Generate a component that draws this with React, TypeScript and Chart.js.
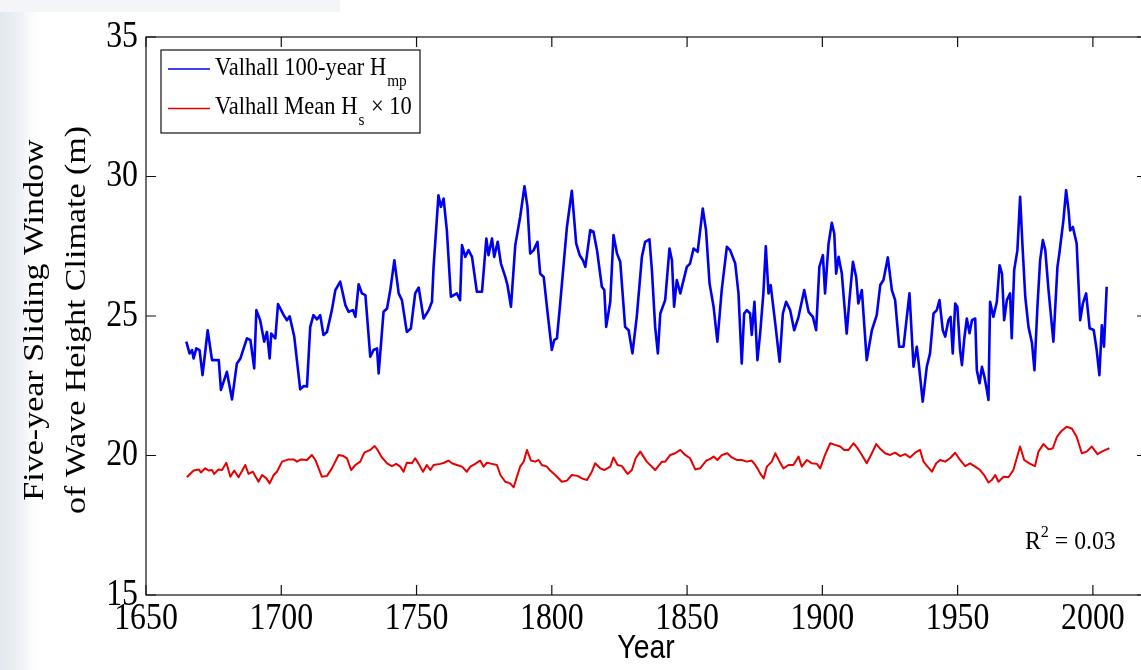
import React, { useEffect, useRef } from "react";
import { Chart, registerables } from "chart.js";

Chart.register(...registerables);

// ---- Data ----
const blueYears = [
  1664.9, 1666.1, 1667.0, 1667.6, 1668.6, 1669.8, 1670.9, 1672.8, 1674.4, 1676.9, 1677.7, 1679.9, 1681.8, 1683.6, 1684.9,
  1687.3, 1688.6, 1690.0, 1690.8, 1692.2, 1693.7, 1694.7, 1695.7, 1696.3, 1697.8, 1698.8, 1700.9, 1702.1, 1703.1, 1704.8,
  1707.0, 1708.3, 1709.5, 1710.7, 1711.9, 1713.2, 1714.4, 1715.6, 1716.9, 1718.7, 1720.0, 1721.8, 1723.7, 1724.9, 1726.5,
  1727.4, 1728.6, 1729.8, 1731.1, 1732.9, 1734.1, 1735.4, 1736.0, 1737.8, 1739.1, 1740.3, 1741.8, 1743.4, 1744.6, 1746.4,
  1747.9, 1749.5, 1750.8, 1752.6, 1754.5, 1755.7, 1756.3, 1758.1, 1759.0, 1760.0, 1761.2, 1762.7, 1764.9, 1766.1, 1766.8,
  1768.0, 1769.2, 1770.5, 1772.3, 1774.2, 1775.8, 1776.6, 1777.9, 1778.7, 1780.0, 1781.2, 1782.8, 1783.6, 1784.9, 1786.5,
  1788.3, 1789.9, 1791.0, 1792.0, 1793.3, 1794.7, 1795.7, 1797.0, 1798.4, 1800.0, 1800.9, 1801.9, 1803.1, 1805.6, 1807.4,
  1809.0, 1810.3, 1811.5, 1812.4, 1814.2, 1815.4, 1816.7, 1818.5, 1819.4, 1820.1, 1821.6, 1822.8, 1824.1, 1825.3, 1827.1,
  1828.4, 1829.8, 1831.4, 1833.3, 1834.5, 1836.1, 1837.0, 1838.2, 1839.2, 1840.1, 1841.9, 1843.5, 1844.4, 1845.2, 1846.2,
  1847.5, 1849.9, 1851.1, 1852.4, 1853.9, 1855.8, 1857.0, 1858.3, 1859.8, 1861.2, 1862.8, 1864.7, 1865.9, 1867.8, 1869.0,
  1870.2, 1871.1, 1872.1, 1873.3, 1873.9, 1874.9, 1876.0, 1877.0, 1878.2, 1879.1, 1880.1, 1880.9, 1882.6, 1884.2, 1885.4,
  1886.6, 1888.1, 1889.6, 1891.2, 1893.3, 1894.9, 1896.5, 1897.7, 1898.9, 1900.2, 1901.0, 1902.3, 1903.5, 1904.4, 1905.1,
  1906.0, 1907.2, 1909.0, 1910.0, 1911.3, 1912.5, 1913.3, 1914.6, 1916.4, 1918.3, 1920.1, 1921.4, 1922.6, 1924.2, 1925.7,
  1926.9, 1928.4, 1930.0, 1932.2, 1933.7, 1934.9, 1935.5, 1937.1, 1938.6, 1939.8, 1941.1, 1942.3, 1943.3, 1944.5, 1945.4,
  1946.6, 1947.4, 1948.2, 1949.1, 1949.9, 1950.9, 1951.6, 1952.4, 1953.4, 1954.4, 1955.3, 1956.5, 1957.1, 1958.1, 1959.0,
  1959.9, 1960.8, 1961.4, 1962.0, 1963.2, 1964.5, 1965.5, 1966.4, 1967.2, 1968.2, 1969.4, 1970.0, 1970.9, 1972.1, 1973.1,
  1974.0, 1975.0, 1976.2, 1977.5, 1978.4, 1979.5, 1980.5, 1981.5, 1982.4, 1983.6, 1985.4, 1986.9, 1987.6, 1989.1, 1990.1,
  1991.0, 1991.6, 1992.6, 1994.0, 1995.3, 1996.3, 1997.5, 1998.8, 2000.3, 2001.4, 2002.4, 2003.3, 2004.1, 2005.1,
];
const blueValues = [
  24.08, 23.66, 23.78, 23.48, 23.84, 23.78, 22.88, 24.49, 23.42, 23.42, 22.35, 23.0, 22.01, 23.3, 23.48,
  24.2, 24.14, 23.12, 25.21, 24.85, 24.08, 24.43, 23.48, 24.37, 24.2, 25.43, 25.03, 24.85, 24.99, 24.26,
  22.37, 22.49, 22.47, 24.61, 25.03, 24.88, 25.03, 24.32, 24.43, 25.21, 25.93, 26.23, 25.39, 25.15, 25.21,
  24.97, 26.14, 25.81, 25.75, 23.54, 23.78, 23.84, 22.94, 25.15, 25.27, 25.93, 27.0, 25.81, 25.57, 24.43,
  24.55, 25.81, 26.02, 24.91, 25.21, 25.51, 26.76, 29.33, 28.91, 29.21, 28.08, 25.69, 25.81, 25.57, 27.54,
  27.12, 27.36, 27.12, 25.87, 25.87, 27.78, 27.18, 27.78, 27.12, 27.66, 26.88, 26.4, 26.11, 25.33, 27.54,
  28.55, 29.65, 28.91, 27.24, 27.36, 27.66, 26.52, 26.4, 25.15, 23.78, 24.14, 24.2, 25.45, 28.2, 29.49,
  27.6, 27.18, 27.0, 26.76, 28.08, 28.02, 27.36, 26.05, 25.93, 24.61, 25.51, 27.9, 27.24, 26.94, 24.61,
  24.49, 23.66, 24.97, 27.12, 27.66, 27.75, 26.64, 24.61, 23.66, 25.09, 25.57, 27.42, 27.0, 25.33, 26.29,
  25.81, 26.76, 26.88, 27.42, 27.3, 28.85, 28.08, 26.17, 25.33, 24.08, 25.93, 27.48, 27.36, 26.88, 25.81,
  23.3, 25.09, 25.21, 25.09, 24.32, 25.51, 23.42, 24.37, 25.81, 27.5, 25.81, 26.11, 24.73, 23.36, 25.09,
  25.51, 25.21, 24.49, 24.97, 25.93, 25.15, 24.97, 24.49, 26.76, 27.18, 25.81, 27.6, 28.34, 27.96, 26.52,
  27.12, 26.52, 24.37, 25.57, 26.94, 26.4, 25.45, 25.93, 23.42, 24.49, 25.03, 26.11, 26.29, 27.1, 25.93,
  25.57, 23.9, 23.9, 25.81, 23.18, 23.9, 23.42, 21.93, 23.18, 23.66, 25.09, 25.21, 25.57, 24.5, 24.26,
  24.85, 24.97, 23.66, 25.45, 25.33, 23.78, 23.24, 24.13, 24.91, 24.38, 24.85, 24.91, 23.06, 22.59, 23.18,
  22.82, 22.35, 21.99, 25.51, 24.97, 25.51, 26.82, 26.52, 24.85, 25.57, 25.81, 24.2, 26.64, 27.36, 29.27,
  27.48, 25.69, 24.61, 24.02, 23.06, 25.33, 27.0, 27.72, 27.36, 25.93, 24.08, 26.76, 27.24, 28.43, 29.51,
  28.79, 28.07, 28.19, 27.6, 24.85, 25.45, 25.81, 24.56, 24.5, 23.78, 22.88, 24.67, 23.9, 26.05,
];

const redYears = [
  1665.1, 1667.6, 1669.5, 1670.3, 1671.9, 1673.2, 1674.4, 1675.2, 1676.8, 1678.1, 1679.7, 1681.2, 1682.6, 1684.2, 1686.7,
  1687.9, 1689.5, 1691.6, 1692.9, 1694.5, 1695.7, 1697.2, 1698.4, 1700.3, 1702.7, 1704.6, 1705.8, 1707.3, 1709.5, 1711.3,
  1712.6, 1715.0, 1716.9, 1718.7, 1721.2, 1723.0, 1724.3, 1725.8, 1727.4, 1729.2, 1730.7, 1732.9, 1734.5, 1735.6, 1737.2,
  1739.1, 1740.9, 1742.5, 1744.0, 1745.2, 1746.4, 1748.3, 1749.5, 1750.8, 1752.4, 1753.8, 1755.1, 1756.3, 1758.8, 1760.2,
  1761.8, 1763.1, 1764.9, 1766.8, 1768.6, 1769.9, 1771.7, 1773.5, 1774.8, 1776.0, 1777.9, 1779.7, 1781.0, 1782.8, 1784.6,
  1785.9, 1787.1, 1788.3, 1789.6, 1790.8, 1792.3, 1793.9, 1795.1, 1796.3, 1798.2, 1799.4, 1801.3, 1803.7, 1805.6, 1807.4,
  1809.5, 1811.1, 1813.0, 1814.8, 1816.0, 1817.9, 1819.4, 1821.6, 1822.8, 1824.3, 1825.9, 1828.0, 1829.6, 1831.0, 1832.7,
  1835.1, 1838.2, 1840.7, 1841.9, 1843.8, 1845.6, 1847.5, 1849.3, 1851.1, 1853.0, 1854.8, 1857.1, 1858.3, 1859.8, 1861.2,
  1862.9, 1864.9, 1866.5, 1868.4, 1870.2, 1872.1, 1873.9, 1875.2, 1876.0, 1877.0, 1878.3, 1879.5, 1881.3, 1882.6, 1884.2,
  1885.6, 1887.5, 1889.3, 1891.2, 1892.4, 1894.3, 1896.1, 1898.0, 1899.2, 1901.0, 1902.9, 1904.7, 1906.6, 1908.1, 1909.7,
  1911.5, 1913.0, 1914.6, 1916.4, 1918.3, 1919.9, 1921.6, 1923.2, 1925.1, 1926.9, 1928.8, 1930.6, 1932.4, 1934.3, 1936.1,
  1937.4, 1938.9, 1940.5, 1942.1, 1943.5, 1945.4, 1947.2, 1949.1, 1950.9, 1952.8, 1954.6, 1956.5, 1958.3, 1959.8, 1961.4,
  1962.6, 1963.9, 1965.1, 1967.0, 1968.8, 1970.6, 1973.1, 1974.6, 1976.5, 1978.6, 1979.9, 1981.7, 1983.6, 1985.2, 1986.7,
  1988.5, 1990.3, 1992.2, 1994.0, 1995.9, 1997.7, 1999.6, 2001.7, 2003.3, 2005.1, 2006.1,
];
const redValues = [
  19.22, 19.46, 19.5, 19.39, 19.54, 19.46, 19.48, 19.34, 19.5, 19.48, 19.74, 19.24, 19.46, 19.22, 19.66,
  19.34, 19.42, 19.06, 19.3, 19.18, 19.0, 19.3, 19.42, 19.78, 19.86, 19.86, 19.78, 19.86, 19.84, 20.02,
  19.84, 19.24, 19.27, 19.54, 20.02, 19.98, 19.9, 19.48, 19.66, 19.78, 20.1, 20.2, 20.34, 20.2, 19.93,
  19.72, 19.62, 19.7, 19.6, 19.42, 19.74, 19.72, 19.9, 19.7, 19.42, 19.66, 19.48, 19.66, 19.7, 19.74,
  19.82, 19.72, 19.66, 19.6, 19.42, 19.6, 19.7, 19.82, 19.6, 19.74, 19.7, 19.66, 19.3, 19.06, 19.0,
  18.86, 19.24, 19.6, 19.78, 20.2, 19.82, 19.78, 19.84, 19.66, 19.6, 19.46, 19.3, 19.06, 19.1, 19.3,
  19.27, 19.18, 19.12, 19.42, 19.72, 19.54, 19.48, 19.6, 19.93, 19.66, 19.62, 19.34, 19.48, 19.9, 20.14,
  19.78, 19.48, 19.78, 19.78, 20.02, 20.08, 20.2, 20.02, 19.9, 19.5, 19.54, 19.82, 19.86, 19.96, 19.84,
  20.02, 20.08, 19.93, 19.84, 19.84, 19.78, 19.82, 19.66, 19.54, 19.36, 19.18, 19.6, 19.78, 20.08, 19.78,
  19.54, 19.66, 19.66, 19.96, 19.6, 19.84, 19.72, 19.7, 19.54, 20.02, 20.44, 20.38, 20.32, 20.2, 20.2,
  20.44, 20.26, 20.02, 19.72, 20.08, 20.41, 20.22, 20.08, 20.02, 20.1, 19.98, 20.05, 19.93, 20.1, 20.2,
  19.78, 19.6, 19.42, 19.72, 19.84, 19.78, 19.9, 20.1, 19.84, 19.62, 19.72, 19.6, 19.48, 19.3, 19.03,
  19.12, 19.3, 19.06, 19.24, 19.22, 19.48, 20.32, 19.84, 19.72, 19.62, 20.14, 20.41, 20.22, 20.26, 20.67,
  20.89, 21.03, 20.97, 20.67, 20.08, 20.14, 20.32, 20.05, 20.14, 20.22, 20.26,
];

const xRange = [1650, 2020];
const yRange = [15, 35];
const xTickStep = 50;
const yTickStep = 5;
const seriesLabels = ["Valhall 100-year H", "Valhall Mean H"];
const seriesSubs = ["mp", "s"];
const yTitleLines = ["Five-year Sliding Window", "of Wave Height Climate (m)"];
const xTitle = "Year";
const r2Text = ["R", "2", " = 0.03"];

const BLUE = "#0000f0";
const RED = "#e60000";
const SERIF = '"Liberation Serif", "Times New Roman", serif';
const SANS = '"Liberation Sans", Arial, sans-serif';

function drawText(ctx: CanvasRenderingContext2D, text: string, x: number, y: number, font: string,
  align: CanvasTextAlign, baseline: CanvasTextBaseline, sx: number) {
  ctx.save();
  ctx.translate(x, y);
  ctx.scale(sx, 1);
  ctx.font = font;
  ctx.textAlign = align;
  ctx.textBaseline = baseline;
  ctx.fillStyle = "#000";
  ctx.fillText(text, 0, 0);
  const w = ctx.measureText(text).width * sx;
  ctx.restore();
  return w;
}

const bgPlugin = {
  id: "bg",
  beforeDraw(chart: any) {
    const ctx = chart.ctx as CanvasRenderingContext2D;
    ctx.save();
    ctx.fillStyle = "#ffffff";
    ctx.fillRect(0, 0, chart.width, chart.height);
    const g = ctx.createLinearGradient(0, 0, 45, 0);
    g.addColorStop(0, "#e2e8ef");
    g.addColorStop(0.45, "#edf1f5");
    g.addColorStop(1, "rgba(255,255,255,0)");
    ctx.fillStyle = g;
    ctx.fillRect(0, 0, 45, chart.height);
    ctx.fillStyle = "#f3f5f8";
    ctx.fillRect(0, 0, 340, 12);
    ctx.restore();
  },
};

const decoPlugin = {
  id: "deco",
  afterDraw(chart: any) {
    const ctx = chart.ctx as CanvasRenderingContext2D;
    const { left, top, right, bottom } = chart.chartArea;
    const xs = chart.scales.x;
    const ys = chart.scales.y;
    ctx.save();
    // axes box
    ctx.strokeStyle = "#111";
    ctx.lineWidth = 1.2;
    ctx.strokeRect(left, top, right - left, bottom - top);
    // ticks and labels
    const tl = 10;
    ctx.beginPath();
    xs.ticks.forEach((t: any) => {
      const px = xs.getPixelForValue(t.value);
      ctx.moveTo(px, bottom); ctx.lineTo(px, bottom - tl);
      ctx.moveTo(px, top); ctx.lineTo(px, top + tl);
    });
    ys.ticks.forEach((t: any) => {
      const py = ys.getPixelForValue(t.value);
      ctx.moveTo(left, py); ctx.lineTo(left + tl, py);
      ctx.moveTo(right, py); ctx.lineTo(right - tl, py);
    });
    ctx.stroke();
    xs.ticks.forEach((t: any) => {
      const px = xs.getPixelForValue(t.value);
      drawText(ctx, String(t.value), px, 629, `37px ${SERIF}`, "center", "alphabetic", 0.86);
    });
    ys.ticks.forEach((t: any) => {
      const py = ys.getPixelForValue(t.value);
      drawText(ctx, String(t.value), left - 8, py, `37px ${SERIF}`, "right", "middle", 0.86);
    });
    // x title
    drawText(ctx, xTitle, 646, 658, `33px ${SANS}`, "center", "alphabetic", 0.86);
    // y title (rotated)
    const cy = 320;
    [35, 77].forEach((cx, i) => {
      ctx.save();
      ctx.translate(cx, cy);
      ctx.rotate(-Math.PI / 2);
      ctx.scale(1, 0.88);
      ctx.font = `34px ${SERIF}`;
      ctx.textAlign = "center";
      ctx.textBaseline = "middle";
      ctx.fillStyle = "#000";
      ctx.fillText(yTitleLines[i], 0, 0);
      ctx.restore();
    });
    // legend
    const lx = 161, lyTop = 50, lw = 259, lh = 83;
    ctx.fillStyle = "#fff";
    ctx.fillRect(lx, lyTop, lw, lh);
    ctx.strokeStyle = "#111";
    ctx.lineWidth = 1.2;
    ctx.strokeRect(lx, lyTop, lw, lh);
    const rows = [
      { color: BLUE, y: 69, base: 75, sub: 86 },
      { color: RED, y: 108.5, base: 114, sub: 125 },
    ];
    rows.forEach((r, i) => {
      ctx.strokeStyle = r.color;
      ctx.lineWidth = 1.6;
      ctx.beginPath();
      ctx.moveTo(168, r.y); ctx.lineTo(210, r.y);
      ctx.stroke();
      let x = 215;
      x += drawText(ctx, seriesLabels[i], x, r.base, `25px ${SERIF}`, "left", "alphabetic", 0.9);
      x += 1;
      x += drawText(ctx, seriesSubs[i], x, r.sub, `17px ${SERIF}`, "left", "alphabetic", 0.9);
      if (i === 1) {
        drawText(ctx, " \u00d7 10", x + 1, r.base, `25px ${SERIF}`, "left", "alphabetic", 0.9);
      }
    });
    // R^2 annotation
    let rx = 1025;
    rx += drawText(ctx, r2Text[0], rx, 549, `25px ${SERIF}`, "left", "alphabetic", 0.95);
    rx += drawText(ctx, r2Text[1], rx, 537, `17px ${SERIF}`, "left", "alphabetic", 0.95);
    drawText(ctx, r2Text[2], rx, 549, `25px ${SERIF}`, "left", "alphabetic", 0.95);
    ctx.restore();
  },
};

export default function App() {
  const ref = useRef<HTMLCanvasElement | null>(null);
  useEffect(() => {
    if (!ref.current) return;
    const chart = new Chart(ref.current, {
      type: "line",
      data: {
        datasets: [
          {
            label: seriesLabels[0] + seriesSubs[0],
            data: blueYears.map((x, i) => ({ x, y: blueValues[i] })),
            borderColor: BLUE,
            borderWidth: 2.6,
            pointRadius: 0,
            tension: 0,
            borderJoinStyle: "round",
            fill: false,
          },
          {
            label: seriesLabels[1] + seriesSubs[1] + " × 10",
            data: redYears.map((x, i) => ({ x, y: redValues[i] })),
            borderColor: RED,
            borderWidth: 2,
            pointRadius: 0,
            tension: 0,
            borderJoinStyle: "round",
            fill: false,
          },
        ],
      },
      options: {
        responsive: false,
        animation: false,
        devicePixelRatio: 1,
        events: [],
        layout: { padding: { left: 146, top: 37, right: 13, bottom: 75 } },
        plugins: { legend: { display: false }, tooltip: { enabled: false }, title: { display: false } },
        scales: {
          x: {
            type: "linear",
            min: xRange[0],
            max: xRange[1],
            ticks: { display: false, stepSize: xTickStep, includeBounds: false },
            grid: { display: false, drawTicks: false },
            border: { display: false },
            afterFit: (s: any) => { s.height = 0; },
          },
          y: {
            type: "linear",
            min: yRange[0],
            max: yRange[1],
            ticks: { display: false, stepSize: yTickStep },
            grid: { display: false, drawTicks: false },
            border: { display: false },
            afterFit: (s: any) => { s.width = 0; },
          },
        },
      },
      plugins: [bgPlugin, decoPlugin],
    } as any);
    return () => chart.destroy();
  }, []);
  return (
    <div style={{ position: "fixed", left: 0, top: 0, width: 1141, height: 670, overflow: "hidden", background: "#fff" }}>
      <canvas ref={ref} width={1160} height={670} style={{ display: "block" }} />
    </div>
  );
}
